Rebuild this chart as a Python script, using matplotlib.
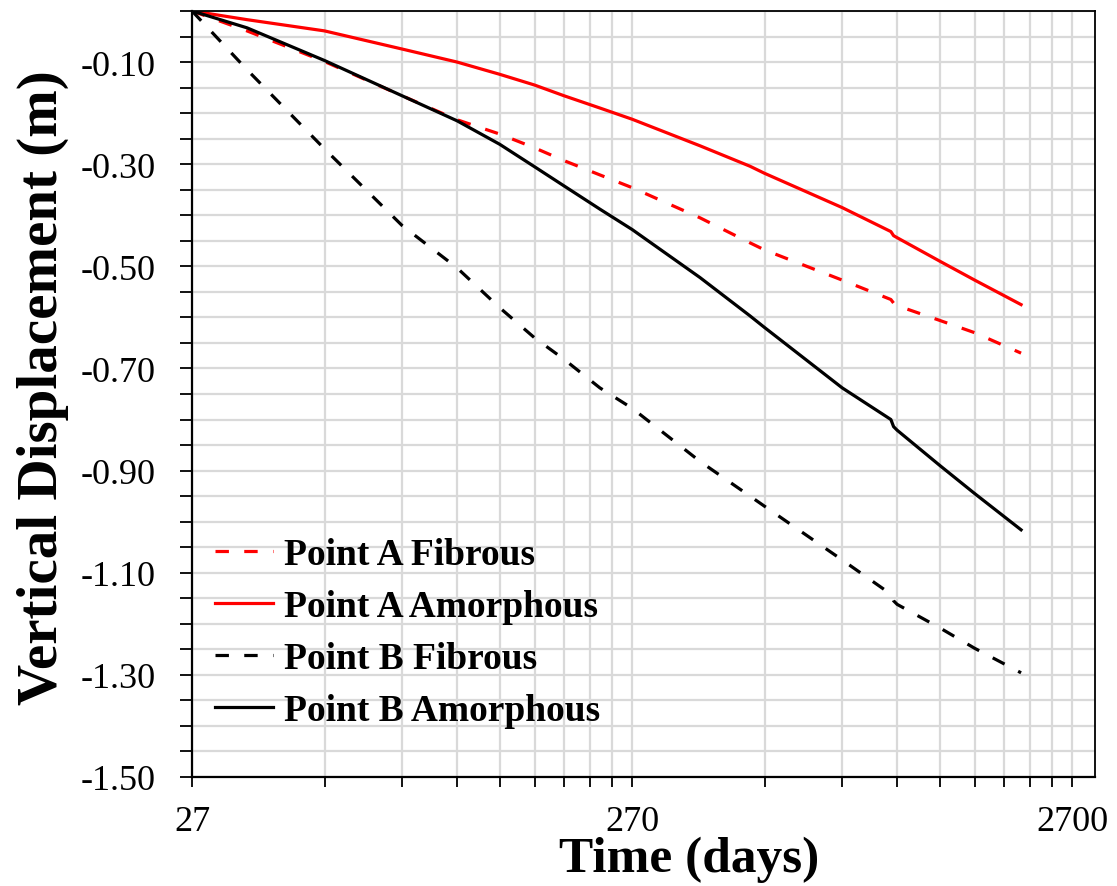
import numpy as np
import matplotlib
matplotlib.use("Agg")
import matplotlib.pyplot as plt
from matplotlib.ticker import FixedLocator, FuncFormatter, NullFormatter

# time in days (log axis)
days = [27, 36, 54, 81, 108, 135, 162, 189, 228, 270, 385, 500, 540,
        810, 1045, 1060, 1080, 1350, 1620, 2065]

# vertical displacement (m)
a_fibrous = [0.0, -0.039, -0.099, -0.166, -0.213, -0.241, -0.268, -0.293,
             -0.321, -0.346, -0.405, -0.454, -0.468, -0.527, -0.565, -0.572,
             -0.577, -0.606, -0.630, -0.670]
a_amorph = [0.0, -0.017, -0.039, -0.0745, -0.100, -0.124, -0.145, -0.166,
            -0.190, -0.212, -0.264, -0.304, -0.318, -0.385, -0.432, -0.440,
            -0.444, -0.490, -0.527, -0.575]
b_fibrous = [0.0, -0.115, -0.270, -0.420, -0.503, -0.581, -0.640, -0.682,
             -0.738, -0.778, -0.882, -0.950, -0.970, -1.075, -1.142, -1.155,
             -1.162, -1.208, -1.248, -1.296]
b_amorph = [0.0, -0.033, -0.097, -0.166, -0.215, -0.261, -0.305, -0.3425,
            -0.388, -0.428, -0.522, -0.597, -0.620, -0.738, -0.800, -0.814,
            -0.821, -0.890, -0.945, -1.016]

labels = ["Point A Fibrous", "Point A Amorphous",
          "Point B Fibrous", "Point B Amorphous"]

plt.rcParams['font.family'] = ['Liberation Serif', 'DejaVu Serif']

fig = plt.figure(figsize=(11.17, 8.87), dpi=100)
ax = fig.add_axes([0.1719, 0.1229, 0.8084, 0.8636])

lw = 2.3
dash = (4.2, 4.8)
ax.plot(days, a_fibrous, color='#ff0000', lw=lw, ls=(0, dash), label=labels[0])
ax.plot(days, a_amorph, color='#ff0000', lw=lw, label=labels[1])
ax.plot(days, b_fibrous, color='black', lw=lw, ls=(0, dash), label=labels[2])
ax.plot(days, b_amorph, color='black', lw=lw, label=labels[3])

ax.set_xscale('log')
ax.set_xlim(27, 3040)
ax.set_ylim(-1.5, 0)

major_x = [27, 270, 2700]
minor_x = [m * k for m in (27, 270) for k in range(2, 10)]
ax.xaxis.set_major_locator(FixedLocator(major_x))
ax.xaxis.set_major_formatter(FuncFormatter(lambda v, p: '%d' % round(v)))
ax.xaxis.set_minor_locator(FixedLocator(minor_x))
ax.xaxis.set_minor_formatter(NullFormatter())

yt = np.round(np.arange(-1.5, 0.001, 0.05), 2)
ax.yaxis.set_major_locator(FixedLocator(yt))


def ylab(v, p):
    c = int(round(-v * 100))
    if c >= 10 and (c - 10) % 20 == 0:
        return '%.2f' % v
    return ''


ax.yaxis.set_major_formatter(FuncFormatter(ylab))

ax.grid(True, which='both', color='#d9d9d9', lw=1.6)
ax.set_axisbelow(True)

ax.tick_params(axis='both', which='both', direction='out', color='black',
               width=1.3, labelsize=26)
ax.tick_params(axis='x', which='both', length=7, pad=13)
ax.tick_params(axis='y', which='both', length=9, pad=17)

for s in ax.spines.values():
    s.set_color('black')
    s.set_linewidth(1.3)
ax.spines['left'].set_linewidth(1.6)
ax.spines['bottom'].set_linewidth(1.6)

ax.set_xlabel('Time (days)', fontsize=37, fontweight='bold')
ax.xaxis.set_label_coords(0.551, -0.077)
ax.set_ylabel('Vertical Displacement (m)', fontsize=41, fontweight='bold')
ax.yaxis.set_label_coords(-0.136, 0.51)

leg = ax.legend(loc='upper left', bbox_to_anchor=(0.025, 0.313), frameon=False,
                prop={'size': 27, 'weight': 'bold'}, handlelength=1.55,
                handletextpad=0.3, labelspacing=0.45, borderaxespad=0,
                borderpad=0)

fig.savefig('out.png', dpi=100)
